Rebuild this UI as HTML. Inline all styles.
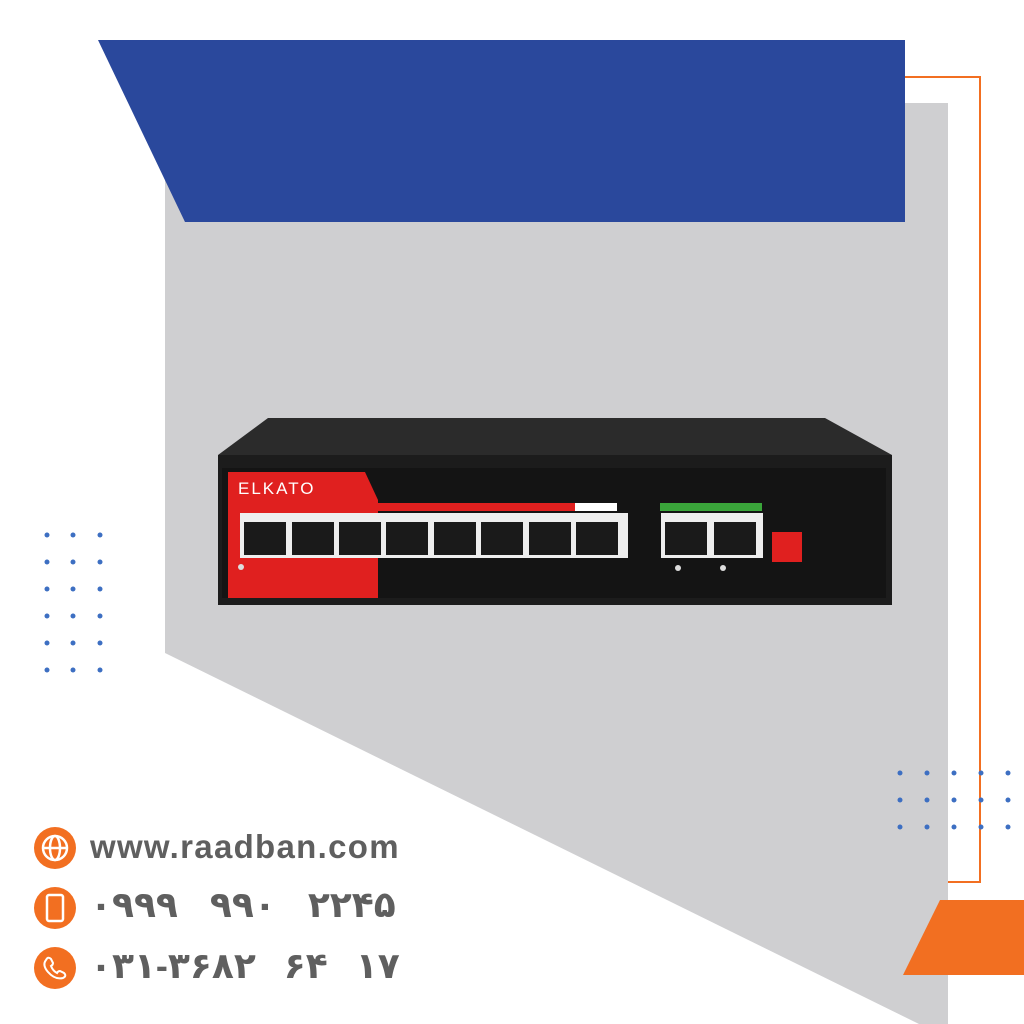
<!DOCTYPE html>
<html><head><meta charset="utf-8"><style>
body{margin:0;width:1024px;height:1024px;overflow:hidden;background:#fff;font-family:"Liberation Sans",sans-serif}
.t{position:absolute;left:90px;color:#5f5f5f;font-weight:bold;font-family:"Liberation Sans","DejaVu Sans",sans-serif}
</style></head><body>
<svg width="1024" height="1024" style="position:absolute;left:0;top:0">
<polygon points="165,103 948,103 948,1024 919,1024 165,653" fill="#cfcfd1"/>
<polygon points="98,40 905,40 905,222 185,222" fill="#2a489c"/>
<polyline points="905,77 980,77 980,882 948,882" fill="none" stroke="#f26f21" stroke-width="2"/>
<polygon points="940,900 1024,900 1024,975 903,975" fill="#f26f21"/>
<g fill="#3d6fc2">
<g id="c"><circle cx="47" cy="535" r="2.5"/><circle cx="73" cy="535" r="2.5"/><circle cx="100" cy="535" r="2.5"/></g>
<use href="#c" y="27"/><use href="#c" y="54"/><use href="#c" y="81"/><use href="#c" y="108"/><use href="#c" y="135"/>
<g id="d"><circle cx="900" cy="773" r="2.5"/><circle cx="927" cy="773" r="2.5"/><circle cx="954" cy="773" r="2.5"/><circle cx="981" cy="773" r="2.5"/><circle cx="1008" cy="773" r="2.5"/></g>
<use href="#d" y="27"/><use href="#d" y="54"/>
</g>
<polygon points="268,418 825,418 892,455 218,455" fill="#2b2b2b"/>
<rect x="218" y="455" width="674" height="150" fill="#1c1c1c"/>
<rect x="222" y="468" width="664" height="130" fill="#141414"/>
<polygon points="228,472 365,472 378,500 378,598 228,598" fill="#e0201f"/>
<text x="238" y="494" font-size="17" fill="#fff" font-family="Liberation Sans" letter-spacing="2">ELKATO</text>
<rect x="240" y="503" width="335" height="8" fill="#e0201f"/>
<rect x="575" y="503" width="42" height="8" fill="#fff"/>
<rect x="660" y="503" width="102" height="8" fill="#3aa53a"/>
<g fill="#eee">
<rect x="240" y="513" width="388" height="45"/>
<rect x="661" y="513" width="102" height="45"/>
</g>
<g fill="#1a1a1a">
<rect x="244" y="522" width="42" height="33"/><rect x="292" y="522" width="42" height="33"/><rect x="339" y="522" width="42" height="33"/><rect x="386" y="522" width="42" height="33"/><rect x="434" y="522" width="42" height="33"/><rect x="481" y="522" width="42" height="33"/><rect x="529" y="522" width="42" height="33"/><rect x="576" y="522" width="42" height="33"/>
<rect x="665" y="522" width="42" height="33"/><rect x="714" y="522" width="42" height="33"/>
</g>
<rect x="772" y="532" width="30" height="30" fill="#e0201f"/>
<g fill="#ddd"><circle cx="241" cy="567" r="3"/><circle cx="678" cy="568" r="3"/><circle cx="723" cy="568" r="3"/></g>
</svg>
<svg width="50" height="190" style="position:absolute;left:33px;top:826px">
<circle cx="22" cy="22" r="21" fill="#f26f21"/>
<circle cx="22" cy="22" r="12" fill="none" stroke="#fff" stroke-width="2.5"/>
<line x1="10" y1="22" x2="34" y2="22" stroke="#fff" stroke-width="2.5"/>
<ellipse cx="22" cy="22" rx="5" ry="12" fill="none" stroke="#fff" stroke-width="2.5"/>
<circle cx="22" cy="82" r="21" fill="#f26f21"/>
<rect x="14" y="69" width="16" height="26" rx="2" fill="none" stroke="#fff" stroke-width="2.5"/>
<circle cx="22" cy="142" r="21" fill="#f26f21"/>
<path d="M13 134 q2 -4 5 -1 l2 4 q0 2 -2 3 q2 5 6 7 q1 -2 3 -2 l4 2 q3 3 -1 5 q-8 2 -15 -6 q-6 -7 -2 -12z" fill="none" stroke="#fff" stroke-width="2"/>
</svg>
<div class="t" style="top:828px;font-size:33px;letter-spacing:1.3px">www.raadban.com</div>
<div class="t" style="top:884px;font-size:36px;word-spacing:22px" dir="ltr">۰۹۹۹ ۹۹۰ ۲۲۴۵</div>
<div class="t" style="top:945px;font-size:36px;word-spacing:18px" dir="ltr">۰۳۱-۳۶۸۲ ۶۴ ۱۷</div>
</body></html>
